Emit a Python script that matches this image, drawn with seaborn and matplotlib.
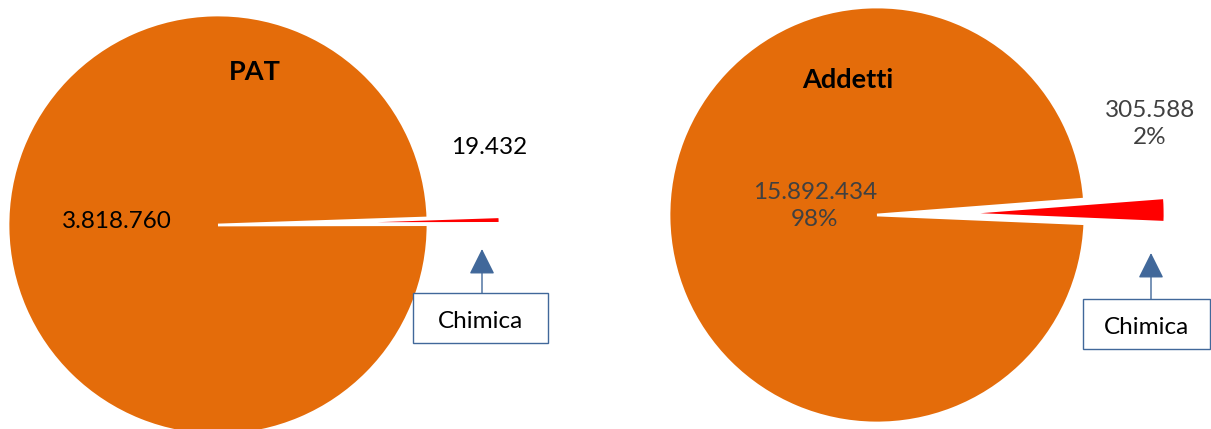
import matplotlib.pyplot as plt
import seaborn as sns
from matplotlib.patches import Rectangle, FancyArrowPatch

# data
charts = ["PAT", "Addetti"]
altri_values = [3818760, 15892434]
chimica_values = [19432, 305588]
show_percent = [False, True]
highlight_label = "Chimica"

orange = "#E46C0A"
red = "#FF0000"
arrow_blue = "#41689A"

sns.set_theme(style="white")
plt.rcParams["font.family"] = ["Lato", "DejaVu Sans"]

W, H = 1211, 429
fig = plt.figure(figsize=(W / 100, H / 100), dpi=100)
ax = fig.add_axes([0, 0, 1, 1])


def fmt(v):
    return f"{v:,}".replace(",", ".")


# layout per chart (pixel space, y measured from top)
centers = [(218, 225), (877, 215)]
radii = [210, 208]
explodes = [72, 80]
starts = [0.1, -2.4]
title_pos = [(255, 72), (848, 80)]
big_label_pos = [(117, 222), (815, 206)]
small_label_pos = [(489, 147), (1150, 124)]
boxes = [(413, 293, 135, 50), (1083, 299, 127, 50)]
arrow_tips = [(482, 249), (1151, 253)]

for i, name in enumerate(charts):
    cx, cy = centers[i]
    vals = [chimica_values[i], altri_values[i]]
    ax.pie(
        vals,
        colors=[red, orange],
        explode=[explodes[i], 0],
        startangle=starts[i],
        counterclock=True,
        center=(cx, H - cy),
        radius=radii[i],
        wedgeprops=dict(edgecolor="white", linewidth=2),
    )
    total = sum(vals)
    tx, ty = title_pos[i]
    ax.text(tx, H - ty, name, ha="center", va="center",
            fontsize=19.5, fontweight="bold", color="black")

    txt_color = "#404040" if show_percent[i] else "black"
    big = fmt(altri_values[i])
    small = fmt(chimica_values[i])
    if show_percent[i]:
        big += f"\n{round(altri_values[i] / total * 100)}%"
        small += f"\n{round(chimica_values[i] / total * 100)}%"
    bx, by = big_label_pos[i]
    ax.text(bx, H - by, big, ha="center", va="center", fontsize=17.5,
            color=txt_color, linespacing=1.4)
    sx, sy = small_label_pos[i]
    ax.text(sx, H - sy, small, ha="center", va="center", fontsize=17.5,
            color=txt_color, linespacing=1.4)

    x0, y0, w, h = boxes[i]
    ax.add_patch(Rectangle((x0, H - y0 - h), w, h, facecolor="white",
                           edgecolor=arrow_blue, linewidth=1))
    ax.text(x0 + w / 2, H - y0 - h / 2 - 4, highlight_label, ha="center",
            va="center", fontsize=17.5, color="black")
    ax_x, ax_y = arrow_tips[i]
    ax.add_patch(FancyArrowPatch((ax_x, H - y0), (ax_x, H - ax_y),
                                 arrowstyle="-|>,head_length=10,head_width=5",
                                 mutation_scale=1.6, color=arrow_blue,
                                 linewidth=1, shrinkA=0, shrinkB=0))

ax.set_xlim(0, W)
ax.set_ylim(0, H)
ax.set_aspect("equal")
ax.axis("off")

fig.savefig("out.png", dpi=100)
plt.close(fig)
